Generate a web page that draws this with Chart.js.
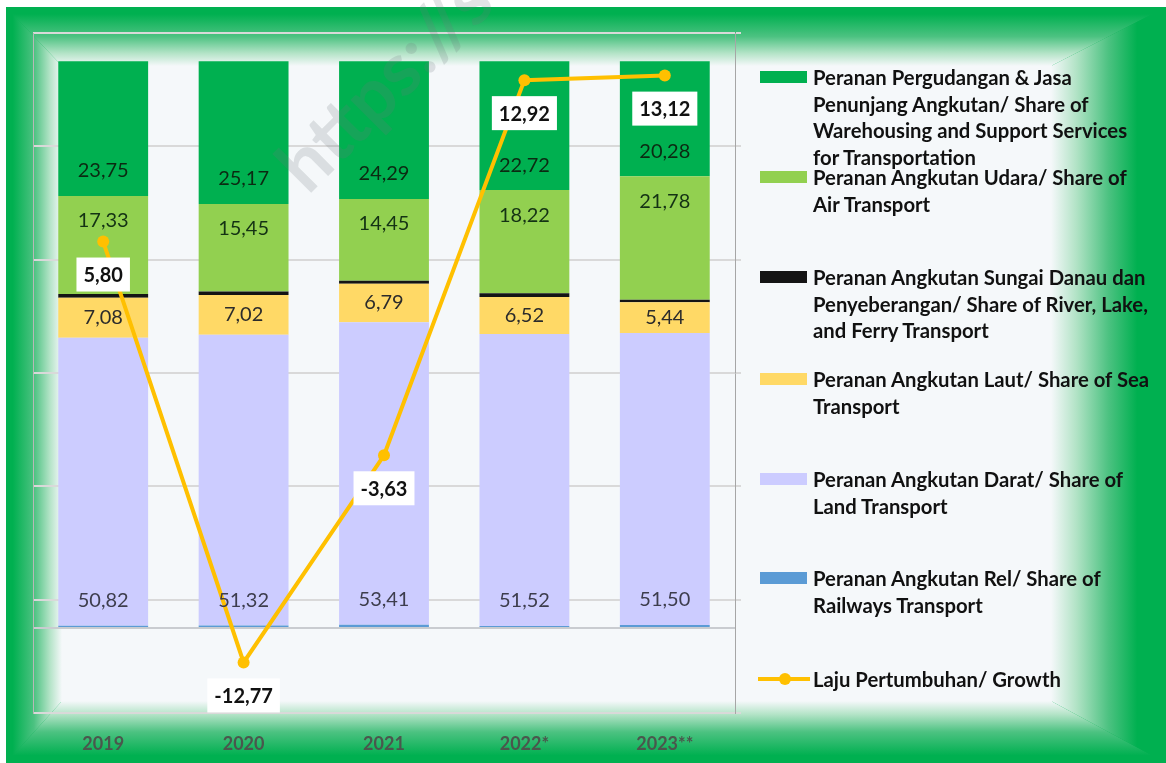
<!DOCTYPE html>
<html>
<head>
<meta charset="utf-8">
<script src="https://cdn.jsdelivr.net/npm/chart.js@4"></script>
<style>
  html, body { margin: 0; padding: 0; background: #fff; overflow: hidden; }
  #wrap { position: absolute; left: 0; top: 0; width: 1166px; height: 763px; }
  #myChart { display: block; }
  #legend { position: absolute; left: 760px; top: 0; }
  .item { position: absolute; left: 0; font: bold 20.3px Lato, sans-serif; color: #111; line-height: 26.5px; white-space: nowrap; }
  .item .sw { position: absolute; left: 0; top: 7px; width: 47px; height: 12px; }
  .item .txt { position: absolute; left: 53px; top: 0; }
  .item .ln { position: absolute; left: -2px; top: 11px; width: 52px; height: 4px; background: #FFC000; }
  .item .dot { position: absolute; left: 19px; top: 7px; width: 12px; height: 12px; border-radius: 50%; background: #FFC000; }
</style>
</head>
<body>
<div id="wrap">
  <canvas id="myChart"></canvas>
  <div id="legend"></div>
</div>
<script>
// data
const years = ['2019', '2020', '2021', '2022*', '2023**'];
const rail = [0.40, 0.42, 0.56, 0.36, 0.55];
const land = [50.82, 51.32, 53.41, 51.52, 51.50];
const sea = [7.08, 7.02, 6.79, 6.52, 5.44];
const river = [0.62, 0.62, 0.50, 0.66, 0.45];
const air = [17.33, 15.45, 14.45, 18.22, 21.78];
const warehouse = [23.75, 25.17, 24.29, 22.72, 20.28];
const growth = [5.80, -12.77, -3.63, 12.92, 13.12];

const names = {
    warehouse: ['Peranan Pergudangan & Jasa', 'Penunjang Angkutan/ Share of', 'Warehousing and Support Services', 'for Transportation'],
    air: ['Peranan Angkutan Udara/ Share of', 'Air Transport'],
    river: ['Peranan Angkutan Sungai Danau dan', 'Penyeberangan/ Share of River, Lake,', 'and Ferry Transport'],
    sea: ['Peranan Angkutan Laut/ Share of Sea', 'Transport'],
    land: ['Peranan Angkutan Darat/ Share of', 'Land Transport'],
    rail: ['Peranan Angkutan Rel/ Share of', 'Railways Transport'],
    growth: ['Laju Pertumbuhan/ Growth']
};

function fmt(v) {
    return v.toFixed(2).replace('.', ',');
}

function barSet(key, data, color, place, textColor) {
    return {
        type: 'bar',
        label: names[key].join(' '),
        lines: names[key],
        data: data,
        backgroundColor: color,
        yAxisID: 'y',
        stack: 's',
        labelPlace: place,
        labelColor: textColor
    };
}

// background: rectangular gradient green -> white
const bgPlugin = {
    id: 'bg',
    beforeDraw(chart) {
        const c = chart.ctx;
        const W = chart.width, H = chart.height;
        const L = 6, T = 7, R = W, B = H;
        const il = 62, it = 66, ir = W - 115, ib = H - 62;
        const green = '#00B050', white = '#F5F8FA';
        c.save();
        c.fillStyle = green;
        c.fillRect(L, T, R - L, B - T);
        c.fillStyle = white;
        c.fillRect(il - 1, it - 1, ir - il + 2, ib - it + 2);
        function part(pts, x0, y0, x1, y1, s) {
            const g = c.createLinearGradient(x0, y0, x1, y1);
            g.addColorStop(0, green);
            g.addColorStop(s, green);
            g.addColorStop(0.5, '#4cc281');
            g.addColorStop(0.78, '#b2e3c6');
            g.addColorStop(1, white);
            c.fillStyle = g;
            c.beginPath();
            c.moveTo(pts[0][0], pts[0][1]);
            for (let i = 1; i < pts.length; i++) c.lineTo(pts[i][0], pts[i][1]);
            c.closePath();
            c.fill();
        }
        part([[L, T], [R, T], [ir, it], [il, it]], 0, T, 0, it, 0.12);
        part([[L, B], [R, B], [ir, ib], [il, ib]], 0, B, 0, ib, 0.12);
        part([[L, T], [il, it], [il, ib], [L, B]], L, 0, il, 0, 0.12);
        part([[R, T], [ir, it], [ir, ib], [R, B]], R, 0, ir, 0, 0.25);
        c.restore();
    }
};

// value labels
const labelPlugin = {
    id: 'labels',
    afterDatasetsDraw(chart) {
        const c = chart.ctx;
        c.save();
        c.textAlign = 'center';
        c.textBaseline = 'middle';
        chart.data.datasets.forEach((ds, i) => {
            const meta = chart.getDatasetMeta(i);
            meta.data.forEach((el, j) => {
                const v = ds.data[j];
                if (ds.type === 'line') {
                    c.font = 'bold 20px Lato';
                    const t = fmt(v);
                    const w = c.measureText(t).width + 14;
                    const cy = el.y + 33;
                    c.fillStyle = '#ffffff';
                    c.fillRect(el.x - w / 2, cy - 17, w, 34);
                    c.fillStyle = '#111';
                    c.fillText(t, el.x, cy + 1);
                    return;
                }
                if (!ds.labelPlace) return;
                let y;
                if (ds.labelPlace === 'base') y = el.base - 25;
                else if (ds.labelPlace === 'end') y = el.y + 25;
                else y = (el.y + el.base) / 2;
                c.font = '20px Lato';
                c.fillStyle = ds.labelColor;
                c.fillText(fmt(v), el.x, y);
            });
        });
        c.restore();
    },
    afterDraw(chart) {
        // faint watermark
        const c = chart.ctx;
        c.save();
        c.translate(308, 196);
        c.rotate(-45 * Math.PI / 180);
        c.font = 'bold 74px Lato';
        c.fillStyle = 'rgba(110,118,125,0.2)';
        c.fillText('https://s', 0, 0);
        c.restore();
    }
};

const ctx = document.getElementById('myChart');
const chart = new Chart(ctx, {
    data: {
        labels: years,
        datasets: [
            {
                type: 'line',
                label: names.growth.join(' '),
                lines: names.growth,
                data: growth,
                yAxisID: 'y1',
                borderColor: '#FFC000',
                backgroundColor: '#FFC000',
                borderWidth: 4,
                pointRadius: 6,
                pointBackgroundColor: '#FFC000',
                pointBorderWidth: 0,
                tension: 0,
                order: -1
            },
            barSet('rail', rail, '#5B9BD5', null, '#333'),
            barSet('land', land, '#CCCCFF', 'base', '#3d3d4d'),
            barSet('sea', sea, '#FFD966', 'center', '#2b2b2b'),
            barSet('river', river, '#141414', null, '#333'),
            barSet('air', air, '#92D050', 'end', '#143214'),
            barSet('warehouse', warehouse, '#00B050', 'base', '#0b2a12')
        ]
    },
    options: {
        responsive: true,
        maintainAspectRatio: false,
        animation: false,
        layout: { padding: { left: 33, top: 33, right: 425, bottom: 0 } },
        datasets: {
            bar: { categoryPercentage: 1, barPercentage: 0.64 }
        },
        plugins: {
            legend: { display: false },
            tooltip: { enabled: false }
        },
        scales: {
            x: {
                stacked: true,
                grid: { display: false },
                border: { display: false },
                ticks: { font: { family: 'Lato', size: 18, weight: 'bold' }, color: '#4a574d', padding: 12 },
                afterFit: function(s) { s.height = 50; }
            },
            y: {
                position: 'left',
                stacked: true,
                min: -15,
                max: 105,
                ticks: { display: false, stepSize: 15 },
                grid: {
                    drawTicks: false,
                    color: (c) => c.tick && c.tick.value === 0 ? '#c9ccd0' : 'rgba(0,0,0,0)',
                    lineWidth: 2
                },
                border: { color: '#b8b8b8' },
                afterFit: function(s) { s.width = 0; }
            },
            y1: {
                position: 'right',
                min: -15,
                max: 15,
                ticks: { display: false, stepSize: 5 },
                grid: { color: '#d9d9d9', lineWidth: 2, tickLength: 6 },
                border: { color: '#a6a6a6' },
                afterFit: function(s) { s.width = 6; }
            }
        }
    },
    plugins: [bgPlugin, labelPlugin]
});

// legend built from the datasets
const legendEl = document.getElementById('legend');
const order = [6, 5, 4, 3, 2, 1, 0];
const tops = [64, 164, 264, 366, 466, 565, 666];
order.forEach((idx, k) => {
    const ds = chart.data.datasets[idx];
    const item = document.createElement('div');
    item.className = 'item';
    item.style.top = tops[k] + 'px';
    if (ds.type === 'line') {
        item.innerHTML = '<div class="ln"></div><div class="dot"></div>';
    } else {
        item.innerHTML = '<div class="sw" style="background:' + ds.backgroundColor + '"></div>';
    }
    const txt = document.createElement('div');
    txt.className = 'txt';
    txt.innerHTML = ds.lines.map(l => l.replace(/&/g, '&amp;')).join('<br>');
    item.appendChild(txt);
    legendEl.appendChild(item);
});
</script>
</body>
</html>
